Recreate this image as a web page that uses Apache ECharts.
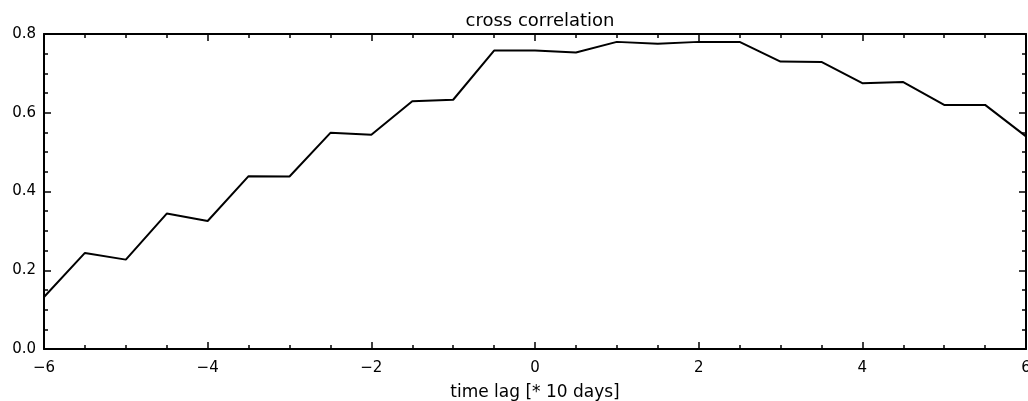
<!DOCTYPE html>
<html>
<head>
<meta charset="utf-8">
<script src="https://cdn.jsdelivr.net/npm/echarts@6/dist/echarts.min.js"></script>
<style>
html,body{margin:0;padding:0;background:#fff;}
#chart{width:1028px;height:401px;}
</style>
</head>
<body>
<div id="chart"></div>
<script>
const titleText = "cross correlation";
const xAxisName = "time lag [* 10 days]";
const lags = [-6, -5.5, -5, -4.5, -4, -3.5, -3, -2.5, -2, -1.5, -1, -0.5, 0, 0.5, 1, 1.5, 2, 2.5, 3, 3.5, 4, 4.5, 5, 5.5, 6];
const corr = [0.132, 0.244, 0.227, 0.344, 0.325, 0.439, 0.438, 0.549, 0.544, 0.629, 0.633, 0.758, 0.758, 0.753, 0.780, 0.775, 0.780, 0.780, 0.730, 0.729, 0.675, 0.678, 0.620, 0.620, 0.540];
const xTickLabels = {"-6": "\u22126", "-4": "\u22124", "-2": "\u22122", "0": "0", "2": "2", "4": "4", "6": "6"};
const yTickLabels = {"0": "0.0", "0.2": "0.2", "0.4": "0.4", "0.6": "0.6", "0.8": "0.8"};

const FONT = "DejaVu Sans";
const chart = echarts.init(document.getElementById('chart'), null, {renderer: 'canvas'});

function axisCommon() {
  return {
    axisLine: {show: true, onZero: false, lineStyle: {color: '#000', width: 2}},
    axisTick: {show: true, inside: true, length: 7, lineStyle: {color: '#000', width: 1.5}},
    minorTick: {show: true, splitNumber: 4, length: 4, lineStyle: {color: '#000', width: 1.5}},
    splitLine: {show: false},
    minorSplitLine: {show: false}
  };
}

const option = {
  backgroundColor: '#fff',
  animation: false,
  title: {
    text: titleText,
    left: 535,
    textAlign: 'center',
    top: 7,
    textStyle: {fontFamily: FONT, fontSize: 18, fontWeight: 'normal', color: '#000'}
  },
  grid: {left: 44, right: 2, top: 34, bottom: 52, containLabel: false, outerBoundsMode: 'none'},
  xAxis: [
    Object.assign({
      type: 'value', min: -6, max: 6, interval: 2, position: 'bottom',
      name: xAxisName, nameLocation: 'middle', nameGap: 35,
      nameTextStyle: {fontFamily: FONT, fontSize: 17, color: '#000'},
      axisLabel: {show: true, margin: 12, fontFamily: FONT, fontSize: 15, color: '#000',
        formatter: v => xTickLabels[String(v)] !== undefined ? xTickLabels[String(v)] : String(v)}
    }, axisCommon()),
    Object.assign({
      type: 'value', min: -6, max: 6, interval: 2, position: 'top',
      axisLabel: {show: false}
    }, axisCommon())
  ],
  yAxis: [
    Object.assign({
      type: 'value', min: 0, max: 0.8, interval: 0.2, position: 'left',
      axisLabel: {show: true, margin: 8, fontFamily: FONT, fontSize: 15, color: '#000',
        formatter: v => { const k = String(Math.round(v * 10) / 10); return yTickLabels[k] !== undefined ? yTickLabels[k] : v.toFixed(1); }}
    }, axisCommon()),
    Object.assign({
      type: 'value', min: 0, max: 0.8, interval: 0.2, position: 'right',
      axisLabel: {show: false}
    }, axisCommon())
  ],
  series: [{
    type: 'line',
    xAxisIndex: 0,
    yAxisIndex: 0,
    data: lags.map((x, i) => [x, corr[i]]),
    showSymbol: false,
    symbol: 'none',
    lineStyle: {color: '#000', width: 2},
    clip: true
  }]
};
chart.setOption(option);
</script>
</body>
</html>
